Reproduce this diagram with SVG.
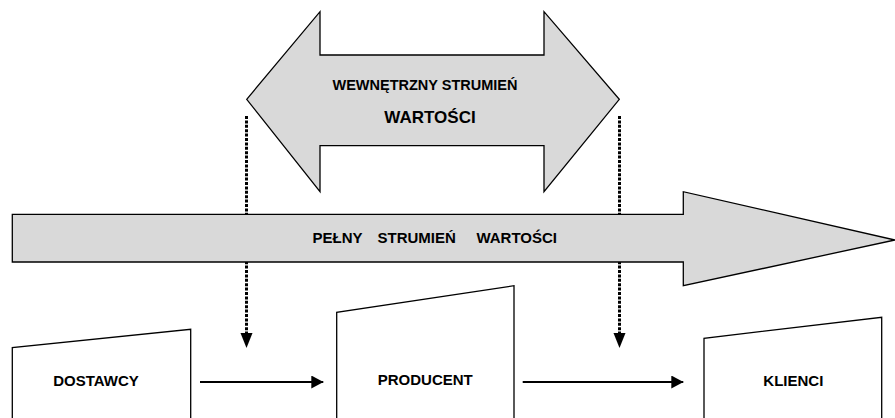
<svg xmlns="http://www.w3.org/2000/svg" width="895" height="418" viewBox="0 0 895 418">
<style>
.big{fill:#d9d9d9;stroke:#000;stroke-width:1.3;stroke-linejoin:miter}
.box{fill:#fff;stroke:#000;stroke-width:1.3}
.t{font-family:"Liberation Sans",Arial,sans-serif;font-weight:bold;fill:#000;text-anchor:middle}
.dot{stroke:#000;stroke-width:3;stroke-dasharray:3 1.4;fill:none}
.ln{stroke:#000;stroke-width:2;fill:none}
</style>
<defs>
<marker id="ah" viewBox="0 0 12 13" refX="12" refY="6.5" markerWidth="12" markerHeight="13" markerUnits="userSpaceOnUse" orient="auto">
<path d="M0,0 L12,6.5 L0,13 Z" fill="#000"/>
</marker>
</defs>
<rect width="895" height="418" fill="#fff"/>
<g id="connectors">
<line class="dot" x1="246.5" y1="116" x2="246.5" y2="334"/>
<polygon points="240.5,333 252.5,333 246.5,348" fill="#000"/>
<line class="dot" x1="619.5" y1="116" x2="619.5" y2="334"/>
<polygon points="613.5,333 625.5,333 619.5,348" fill="#000"/>
<line class="ln" x1="200" y1="382" x2="323.3" y2="382" marker-end="url(#ah)"/>
<line class="ln" x1="522.7" y1="382" x2="683.3" y2="382" marker-end="url(#ah)"/>
</g>
<g id="internal-stream">
<polygon class="big" points="246.7,99.3 320,11.7 320,55 544,55 544,11.7 619.3,99.3 544,191.7 544,145.7 320,145.7 320,191.7"/>
<text class="t" x="425" y="90" font-size="14.5">WEWNĘTRZNY STRUMIEŃ</text>
<text class="t" x="430" y="123.3" font-size="17">WARTOŚCI</text>
</g>
<g id="full-stream">
<polygon class="big" points="12.3,214.3 683.3,214.3 683.3,191.7 895,240 683.3,285.7 683.3,262 12.3,262"/>
<text class="t" y="243.3" font-size="15"><tspan x="337.5">PEŁNY</tspan><tspan x="416.7">STRUMIEŃ</tspan><tspan x="516.7">WARTOŚCI</tspan></text>
</g>
<g id="dostawcy">
<polygon class="box" points="12.3,420 12.3,347.7 190.7,329.3 190.7,420"/>
<text class="t" x="96" y="385.7" font-size="15">DOSTAWCY</text>
</g>
<g id="producent">
<polygon class="box" points="336.7,420 336.7,312.3 514,285.7 514,420"/>
<text class="t" x="425.3" y="385" font-size="15">PRODUCENT</text>
</g>
<g id="klienci">
<polygon class="box" points="704,420 704,338.3 881.7,317.3 881.7,420"/>
<text class="t" x="793.3" y="386" font-size="15">KLIENCI</text>
</g>
</svg>
